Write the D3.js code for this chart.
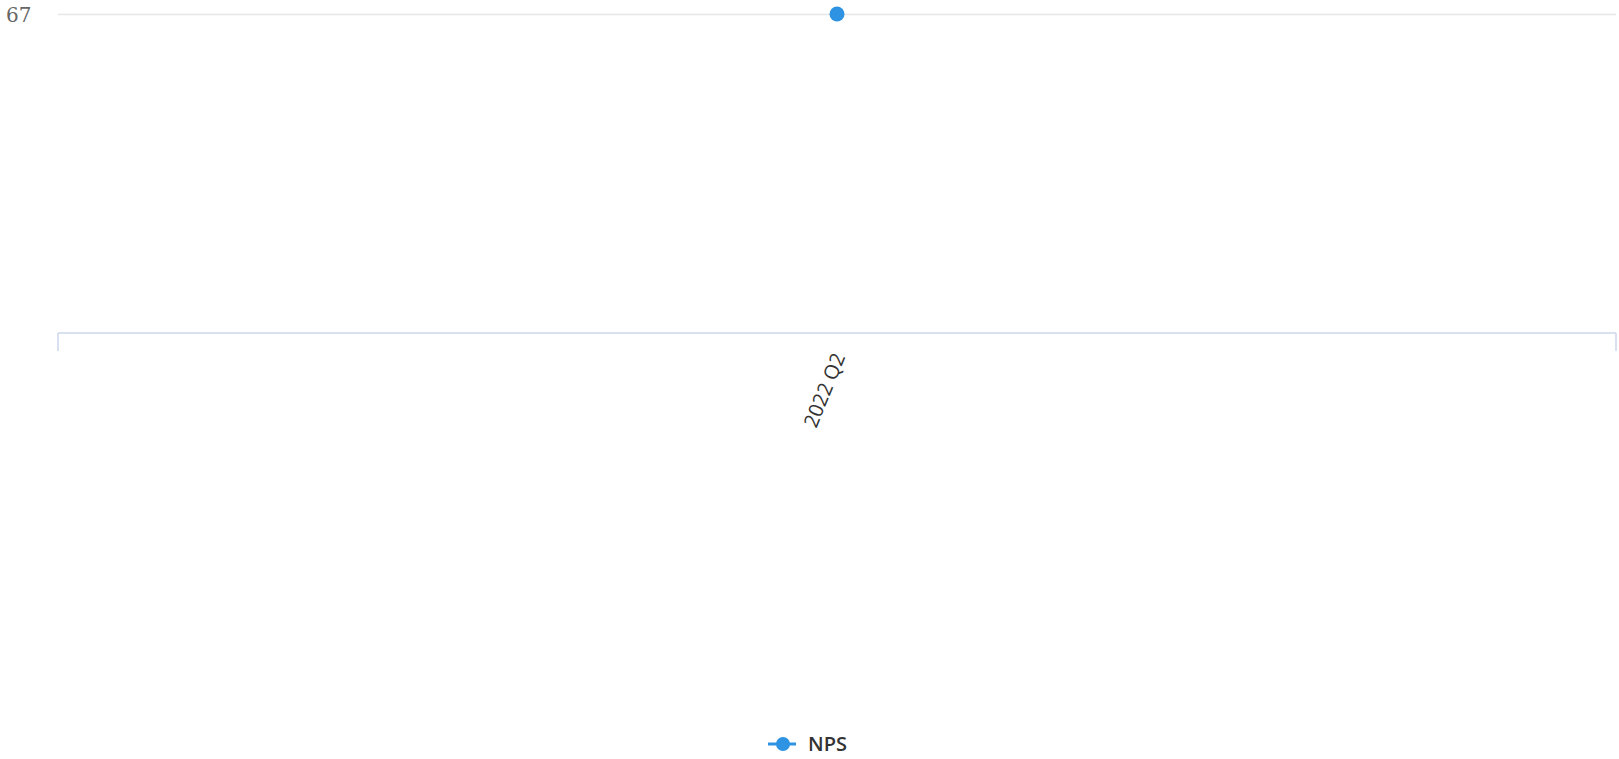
<!DOCTYPE html>
<html>
<head>
<meta charset="utf-8">
<script src="https://cdn.jsdelivr.net/npm/d3@7"></script>
<style>
  body { margin: 0; background: #fff; }
  svg { display: block; }
</style>
</head>
<body>
<svg width="1619" height="759"></svg>
<script>
// data
var categories = ["2022 Q2"];
var npsValues = [67];
var yTicks = [67];
var seriesName = "NPS";

var svg = d3.select("svg");
var width = 1619, height = 759;
var margin = { top: 14, right: 3, bottom: 426, left: 58 };
var plotW = width - margin.left - margin.right;
var plotH = height - margin.top - margin.bottom;
var blue = "#2d93e2";

var x = d3.scaleBand().domain(categories).range([0, plotW]);
var y = d3.scaleLinear().domain([0, 67]).range([plotH, 0]);

var g = svg.append("g").attr("transform", "translate(" + margin.left + "," + margin.top + ")");

// grid lines + y labels
var yAxis = g.append("g")
    .call(d3.axisLeft(y).tickValues(yTicks).tickSize(-plotW).tickFormat(d3.format("d")));
yAxis.select(".domain").remove();
yAxis.selectAll(".tick line").attr("stroke", "#e6e6e6").attr("stroke-width", 1.5);
yAxis.selectAll(".tick text")
    .attr("x", -52)
    .attr("dy", "0.35em")
    .attr("text-anchor", "start")
    .style("font-family", "DejaVu Serif")
    .style("font-size", "20px")
    .style("fill", "#666");

// x axis
var xAxis = g.append("g")
    .attr("transform", "translate(0," + plotH + ")")
    .call(d3.axisBottom(x).tickSize(0).tickSizeOuter(0));
xAxis.select(".domain").remove();
xAxis.append("line")
    .attr("x1", 0).attr("x2", plotW)
    .attr("stroke", "#ccd6eb").attr("stroke-width", 1.5);
// band edge ticks
xAxis.selectAll(".edge")
    .data([0, plotW])
    .enter().append("line")
    .attr("x1", function(d) { return d; })
    .attr("x2", function(d) { return d; })
    .attr("y1", 0).attr("y2", 18)
    .attr("stroke", "#ccd6eb").attr("stroke-width", 1.5);
xAxis.selectAll(".tick text")
    .attr("text-anchor", "end")
    .attr("transform", "translate(2,21) rotate(-68)")
    .attr("y", 0).attr("dy", "0.35em")
    .style("font-family", "Open Sans")
    .style("font-size", "20px")
    .style("fill", "#333");

// points
var line = d3.line()
    .x(function(d, i) { return x(categories[i]) + x.bandwidth() / 2; })
    .y(function(d) { return y(d); });
g.append("path")
    .datum(npsValues)
    .attr("d", line)
    .attr("fill", "none")
    .attr("stroke", blue)
    .attr("stroke-width", 3);
g.selectAll(".pt")
    .data(npsValues)
    .enter().append("circle")
    .attr("cx", function(d, i) { return x(categories[i]) + x.bandwidth() / 2; })
    .attr("cy", function(d) { return y(d); })
    .attr("r", 7.5)
    .attr("fill", blue);

// legend
var legend = svg.append("g").attr("transform", "translate(768,744)");
legend.append("line")
    .attr("x1", 0).attr("x2", 28)
    .attr("stroke", blue).attr("stroke-width", 3);
legend.append("circle")
    .attr("cx", 15).attr("cy", 0).attr("r", 7)
    .attr("fill", blue);
legend.append("text")
    .attr("x", 40).attr("y", 0).attr("dy", "0.35em")
    .style("font-family", "Open Sans")
    .style("font-weight", "600")
    .style("font-size", "20px")
    .style("fill", "#333")
    .text(seriesName);
</script>
</body>
</html>
